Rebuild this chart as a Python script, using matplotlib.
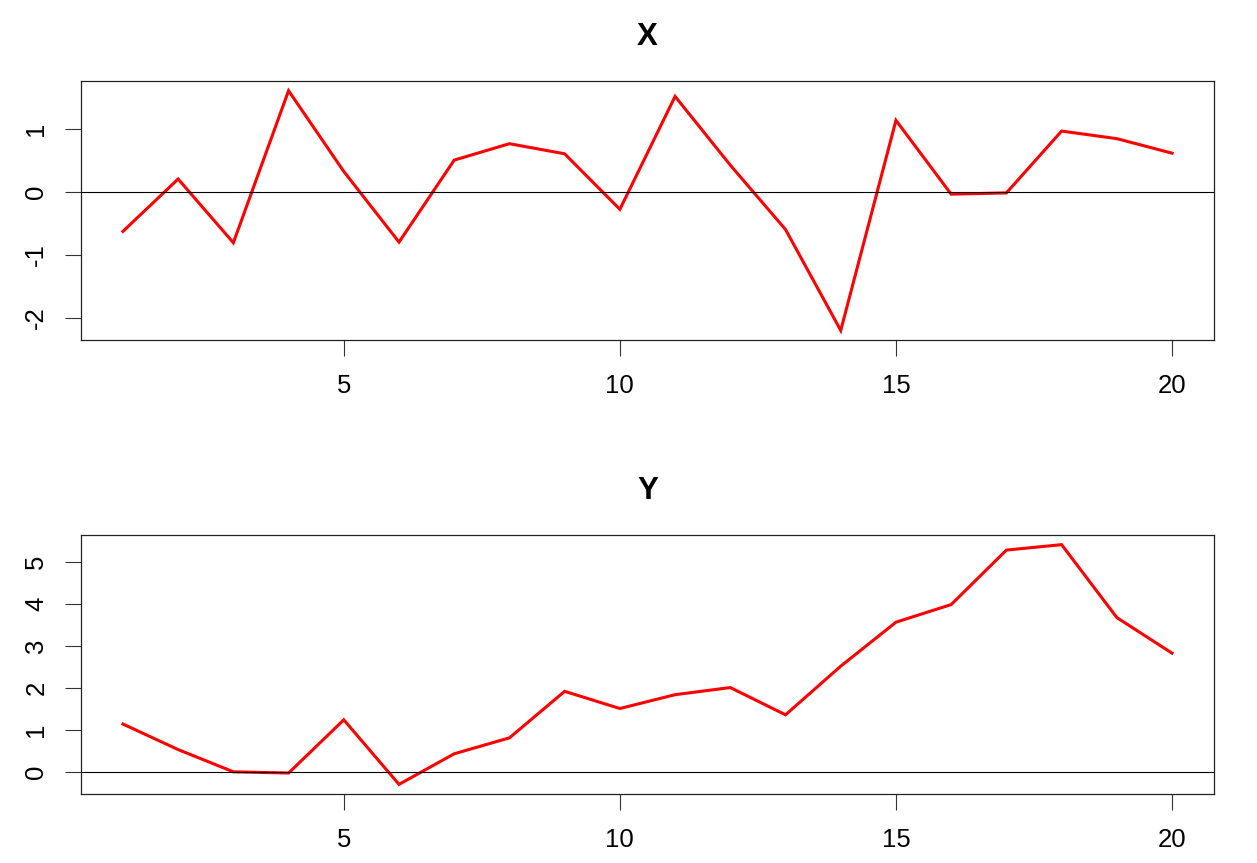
import numpy as np
import matplotlib.pyplot as plt

plt.rcParams['font.family'] = ['Liberation Sans', 'DejaVu Sans']

# serie indeksi ve iki seri
t = np.arange(1, 21)
x_vals = [-0.63, 0.20, -0.81, 1.60, 0.32, -0.80, 0.50, 0.76, 0.60, -0.28,
          1.51, 0.42, -0.60, -2.20, 1.13, -0.04, -0.02, 0.96, 0.84, 0.61]
y_vals = [1.14, 0.53, 0.00, -0.03, 1.24, -0.30, 0.43, 0.81, 1.92, 1.51,
          1.84, 2.01, 1.36, 2.52, 3.57, 3.99, 5.29, 5.42, 3.68, 2.83]
titles = ["X", "Y"]
x_ticks = [5, 10, 15, 20]
y_ticks = [[-2, -1, 0, 1], [0, 1, 2, 3, 4, 5]]

fig = plt.figure(figsize=(12.57, 8.63), dpi=100)
ax1 = fig.add_axes([0.0644, 0.606, 0.9014, 0.300])
ax2 = fig.add_axes([0.0644, 0.080, 0.9014, 0.300])


def r_plot(ax, vals, title, yt):
    vals = np.asarray(vals)
    ax.plot(t, vals, color='red', lw=2.2, solid_joinstyle='miter')
    ax.axhline(0, color='black', lw=0.8)
    # R tarzı %4 kenar boşluğu
    xr = t.max() - t.min()
    ax.set_xlim(t.min() - 0.04 * xr, t.max() + 0.04 * xr)
    yr = vals.max() - vals.min()
    ax.set_ylim(vals.min() - 0.04 * yr, vals.max() + 0.04 * yr)
    ax.set_xticks(x_ticks)
    ax.set_yticks(yt)
    ax.set_yticklabels([str(v) for v in yt], rotation=90, va='center')
    ax.tick_params(axis='both', direction='out', length=11.5, width=0.8,
                   labelsize=18.5, color='#333333')
    ax.tick_params(axis='x', pad=13)
    ax.tick_params(axis='y', pad=12)
    for s in ax.spines.values():
        s.set_linewidth(0.9)
        s.set_color('#222222')
    ax.set_title(title, fontsize=22.5, fontweight='bold', pad=26)


r_plot(ax1, x_vals, titles[0], y_ticks[0])
r_plot(ax2, y_vals, titles[1], y_ticks[1])

fig.savefig('out.png', dpi=100)
